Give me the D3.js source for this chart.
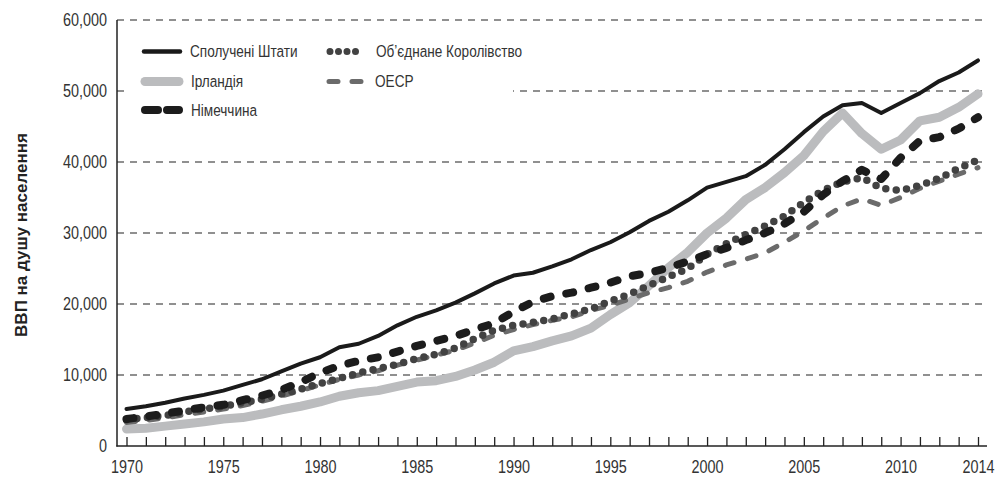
<!DOCTYPE html>
<html>
<head>
<meta charset="utf-8">
<script src="https://cdn.jsdelivr.net/npm/d3@7"></script>
<style>
  html, body { margin: 0; padding: 0; background: #fff; }
  svg { display: block; }
  .tick-label { font-family: "Liberation Sans", Arial, sans-serif; font-size: 18px; fill: #333; }
  .legend-label { font-family: "Liberation Sans", Arial, sans-serif; font-size: 17px; fill: #333; }
</style>
</head>
<body>
<svg id="chart" width="996" height="482"></svg>
<script>
const years = d3.range(1970, 2015);

const usa = [5200,5600,6100,6700,7200,7800,8600,9400,10500,11600,
             12500,13900,14400,15500,17000,18200,19100,20200,21500,22900,
             24000,24400,25300,26300,27600,28700,30100,31700,33000,34600,
             36400,37200,38000,39600,41800,44200,46400,48000,48300,46900,
             48300,49700,51400,52600,54300];
const ireland = [2400,2500,2800,3100,3400,3800,4000,4500,5100,5600,
                 6200,7000,7500,7800,8400,9000,9200,9800,10700,11800,
                 13400,14000,14800,15500,16600,18500,20200,22600,25100,27300,
                 30000,32100,34700,36400,38500,40900,44300,46900,44000,41800,
                 43100,45800,46300,47700,49600];
const germany = [3800,4150,4550,5000,5450,5800,6450,7100,7900,9000,
                 10300,11300,12000,12500,13300,14100,14800,15500,16400,17300,
                 18900,20300,21100,21600,22300,23000,23900,24400,25100,26000,
                 27000,27900,29000,30000,31300,33000,35400,37300,38900,37600,
                 40600,43000,43500,44700,46300];
const uk = [3700,4000,4300,4800,5200,5600,6100,6600,7300,8000,
            8800,9500,10300,10900,11500,12300,12900,13800,15100,16300,
            17000,17400,17900,18600,19300,20400,21400,22600,23800,25000,
            27000,28500,29800,31000,32400,34300,36000,37200,37800,36300,
            36000,36700,37700,39100,40300];
const oecd = [3300,3600,3950,4400,4800,5200,5700,6300,7000,7800,
              8600,9400,10000,10600,11400,12100,12800,13500,14500,15600,
              16400,17100,17700,18200,19100,19800,20700,21600,22300,23200,
              24500,25500,26300,27200,28700,30300,32100,33800,34800,33900,
              35000,36300,37300,38300,39200];

const yTicks = [0, 10000, 20000, 30000, 40000, 50000, 60000];
const xLabelYears = [1970, 1975, 1980, 1985, 1990, 1995, 2000, 2005, 2010, 2014];
const seriesNames = ["Сполучені Штати", "Ірландія", "Німеччина", "Об’єднане Королівство", "ОЕСР"];
const yTitle = "ВВП на душу населення";

const svg = d3.select("#chart");
const x = d3.scaleLinear().domain([1970, 2014]).range([126.5, 978]);
const y = d3.scaleLinear().domain([0, 60000]).range([446, 20]);
const K = 0.8; // horizontal condensing of labels (reference uses a condensed face)

// gridlines
svg.append("g").selectAll("line").data(yTicks.filter(d => d > 0)).join("line")
  .attr("x1", 117).attr("x2", 986)
  .attr("y1", d => y(d)).attr("y2", d => y(d))
  .attr("stroke", "#222").attr("stroke-width", 1.1)
  .attr("stroke-dasharray", "7,6");

// y labels
const yAxis = d3.axisLeft(y).tickValues(yTicks).tickSize(0).tickPadding(10)
  .tickFormat(d3.format(",d"));
const gy = svg.append("g").attr("transform", "translate(117,0)").call(yAxis);
gy.select(".domain").remove();
gy.selectAll("text").attr("class", "tick-label").attr("font-family", null).attr("font-size", null).attr("fill", null)
  .attr("x", -10 / K).attr("transform", `scale(${K},1)`);

// x axis ticks (inward)
const xAxis = d3.axisBottom(x).tickValues(years).tickSize(-9).tickFormat(() => "");
const gx = svg.append("g").attr("transform", "translate(0,446)").call(xAxis);
gx.select(".domain").remove();
gx.selectAll(".tick line").attr("stroke", "#222").attr("stroke-width", 1.3);

// x labels
const xLab = d3.axisBottom(x).tickValues(xLabelYears).tickSize(0).tickPadding(14).tickFormat(d3.format("d"));
const gxl = svg.append("g").attr("transform", "translate(0,446)").call(xLab);
gxl.select(".domain").remove();
gxl.selectAll("text").attr("class", "tick-label").attr("font-family", null).attr("font-size", null).attr("fill", null)
  .attr("transform", `scale(${K},1)`);

// axis lines
svg.append("line").attr("x1", 117).attr("x2", 117).attr("y1", 20).attr("y2", 446.5)
  .attr("stroke", "#222").attr("stroke-width", 1.5);
svg.append("line").attr("x1", 116.3).attr("x2", 987).attr("y1", 446).attr("y2", 446)
  .attr("stroke", "#222").attr("stroke-width", 1.5);

// y title
svg.append("text")
  .attr("transform", "translate(27,235) rotate(-90)")
  .attr("text-anchor", "middle")
  .attr("font-family", "Liberation Sans, Arial, sans-serif")
  .attr("font-weight", "bold")
  .attr("font-size", 17)
  .attr("fill", "#222")
  .text(yTitle);

// legend background
svg.append("rect").attr("x", 127).attr("y", 28).attr("width", 386).attr("height", 108).attr("fill", "#fff");

const styles = [
  { data: ireland, color: "#bbbcbe", width: 9, dash: null, legDash: null },
  { data: oecd, color: "#6b6b6b", width: 5, dash: "9,14", legDash: "9,14" },
  { data: uk, color: "#424242", width: 7.5, dash: "0,10.5", legDash: "0,8.5" },
  { data: germany, color: "#1c1c1c", width: 8, dash: "7,16", legDash: "13,9" },
  { data: usa, color: "#1a1a1a", width: 4, dash: null, legDash: null }
];

const line = d3.line().x((d, i) => x(years[i])).y(d => y(d));

styles.forEach(s => {
  const p = svg.append("path").datum(s.data)
    .attr("d", line)
    .attr("fill", "none")
    .attr("stroke", s.color)
    .attr("stroke-width", s.width)
    .attr("stroke-linecap", "round")
    .attr("stroke-linejoin", "round");
  if (s.dash) p.attr("stroke-dasharray", s.dash);
});

// legend
const legendItems = [
  { name: seriesNames[0], s: styles[4], x: 144, y: 51.5 },
  { name: seriesNames[1], s: styles[0], x: 145, y: 81.5 },
  { name: seriesNames[2], s: styles[3], x: 145, y: 110 },
  { name: seriesNames[3], s: styles[2], x: 330, y: 51.5 },
  { name: seriesNames[4], s: styles[1], x: 329, y: 81.5 }
];
legendItems.forEach(it => {
  const len = it.s === styles[4] ? 36 : 34;
  const p = svg.append("line")
    .attr("x1", it.x).attr("x2", it.x + len)
    .attr("y1", it.y).attr("y2", it.y)
    .attr("stroke", it.s.color)
    .attr("stroke-width", it.s === styles[4] ? 4.5 : (it.s === styles[2] ? 7 : it.s.width))
    .attr("stroke-linecap", "round");
  if (it.s.legDash) p.attr("stroke-dasharray", it.s.legDash);
  svg.append("text").attr("class", "legend-label")
    .attr("transform", `translate(${it.x + 46},${it.y}) scale(${K},1)`)
    .attr("dy", "0.35em")
    .text(it.name);
});
</script>
</body>
</html>
